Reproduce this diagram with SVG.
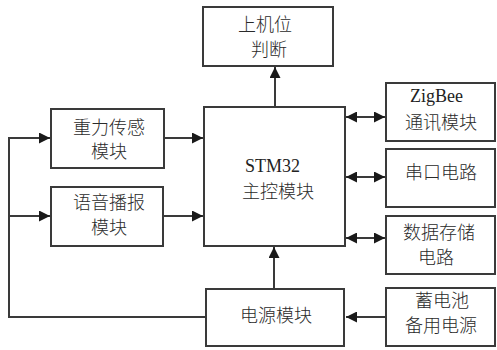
<svg xmlns="http://www.w3.org/2000/svg" width="497" height="350" viewBox="0 0 497 350">
<style>
.box{fill:#fff;stroke:#3a3a3a;stroke-width:2}
.c{fill:none;stroke:#3a3a3a;stroke-width:2}
.t{font-family:"Liberation Serif","Noto Sans CJK SC",serif;font-size:18px;fill:#222}
.z{font-family:"Noto Sans CJK SC",sans-serif;font-size:18px;font-weight:300;fill:#2a2a2a}
</style>
<defs>
<marker id="ah" markerUnits="userSpaceOnUse" markerWidth="11" markerHeight="11" refX="10" refY="5" orient="auto-start-reverse" viewBox="0 0 10 10">
<path d="M0,0 L10,5 L0,10 z" fill="#1a1a1a"/>
</marker>
</defs>
<rect width="497" height="350" fill="#fff"/>
<g id="connectors">
<path class="c" d="M275,107 L275,67" marker-end="url(#ah)"/>
<path class="c" d="M206,317 L9,317 L9,138 L50,138" marker-end="url(#ah)"/>
<path class="c" d="M9,216 L50,216" marker-end="url(#ah)"/>
<path class="c" d="M164,138 L203,138" marker-end="url(#ah)"/>
<path class="c" d="M163,216 L203,216" marker-end="url(#ah)"/>
<path class="c" d="M274,289 L274,247" marker-end="url(#ah)"/>
<path class="c" d="M346,117 L385,117" marker-start="url(#ah)" marker-end="url(#ah)"/>
<path class="c" d="M346,177 L385,177" marker-start="url(#ah)" marker-end="url(#ah)"/>
<path class="c" d="M346,238 L385,238" marker-start="url(#ah)" marker-end="url(#ah)"/>
<path class="c" d="M386,317 L346,317" marker-end="url(#ah)"/>
</g>
<g id="host">
<rect class="box" x="203" y="7" width="130" height="59"/>
<text class="z" x="238" y="31">上机位</text>
<text class="z" x="251" y="56">判断</text>
</g>
<g id="gravity">
<rect class="box" x="51" y="109" width="113" height="59"/>
<text class="z" x="73" y="134">重力传感</text>
<text class="z" x="91" y="158">模块</text>
</g>
<g id="voice">
<rect class="box" x="51" y="187" width="112" height="59"/>
<text class="z" x="73" y="209">语音播报</text>
<text class="z" x="91" y="234">模块</text>
</g>
<g id="stm32">
<rect class="box" x="204" y="107" width="141" height="139"/>
<text class="t" x="245" y="172">STM32</text>
<text class="z" x="242" y="198">主控模块</text>
</g>
<g id="power">
<rect class="box" x="206" y="289" width="138" height="57"/>
<text class="z" x="240" y="322">电源模块</text>
</g>
<g id="zigbee">
<rect class="box" x="386" y="83" width="109" height="58"/>
<text class="t" x="410" y="102">ZigBee</text>
<text class="z" x="405" y="129">通讯模块</text>
</g>
<g id="serial">
<rect class="box" x="386" y="149" width="109" height="58"/>
<text class="z" x="405" y="179">串口电路</text>
</g>
<g id="storage">
<rect class="box" x="386" y="216" width="109" height="58"/>
<text class="z" x="403" y="239">数据存储</text>
<text class="z" x="418" y="264">电路</text>
</g>
<g id="battery">
<rect class="box" x="386" y="288" width="109" height="58"/>
<text class="z" x="415" y="307">蓄电池</text>
<text class="z" x="405" y="332">备用电源</text>
</g>
</svg>
